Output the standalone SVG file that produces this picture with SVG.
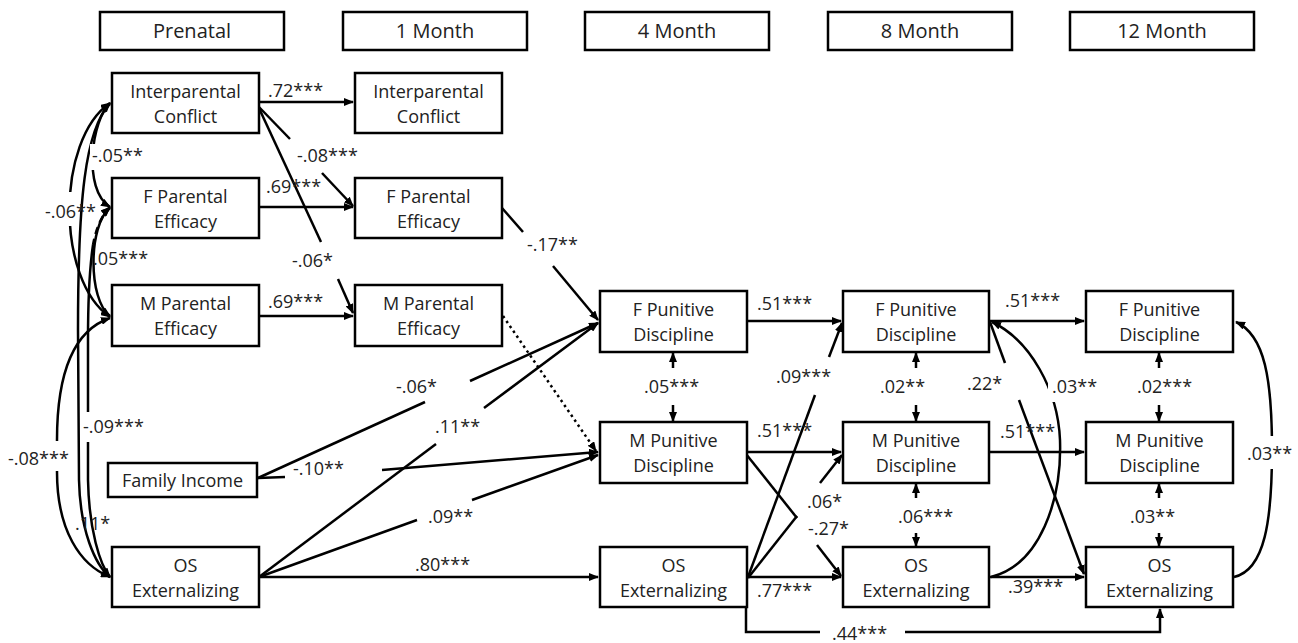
<svg xmlns="http://www.w3.org/2000/svg" width="1298" height="643" viewBox="0 0 1298 643">
<style>
.box{fill:#fff;stroke:#000;stroke-width:2.5}
.nt{font-family:"Open Sans","Liberation Sans",sans-serif;font-size:18px;fill:#222;text-anchor:middle}
.ht{font-family:"Open Sans","Liberation Sans",sans-serif;font-size:20px;fill:#222;text-anchor:middle}
.lb{font-family:"Open Sans","Liberation Sans",sans-serif;font-size:18px;fill:#222}
.ln{fill:none;stroke:#000;stroke-width:2.5}
.ar{marker-end:url(#ah)}
.dd{marker-start:url(#ah);marker-end:url(#ah)}
.gap{fill:#fff;stroke:none}
</style>
<defs>
<marker id="ah" viewBox="0 0 10 8" refX="9" refY="4" markerWidth="10" markerHeight="8" markerUnits="userSpaceOnUse" orient="auto-start-reverse"><path d="M0,0 L10,4 L0,8 z" fill="#000"/></marker>
</defs>

<g id="connectors">
<!-- left covariances -->
<path class="ln dd" d="M110,104 C92,118 82,190 110,207"/>
<path class="ln dd" d="M110,103 C56,140 56,280 110,317"/>
<path class="ln dd" d="M110,208 C88,225 88,300 110,316"/>
<path class="ln dd" d="M110,103 C85,130 78,200 78,330 L79,480 C80,530 95,565 110,577"/>
<path class="ln" d="M110,207 C102,215 96,228 93,245" stroke-dasharray="7,5" marker-start="url(#ah)"/>
<path class="ln ar" d="M93,245 C90,265 88,300 88,340 L88,480 C89,530 100,565 110,577"/>
<path class="ln dd" d="M110,318 C75,330 57,370 57,440 L57,472 C57,530 80,565 110,577"/>
<!-- prenatal to 1 month -->
<path class="ln ar" d="M259,102 H353"/>
<path class="ln ar" d="M259,207 H353"/>
<path class="ln ar" d="M259,316 H353"/>
<path class="ln" d="M258,106 L290,139"/>
<path class="ln ar" d="M322,173 L353,206"/>
<path class="ln" d="M258,106 L321,242"/>
<path class="ln ar" d="M338,279 L353,313"/>
<!-- to 4 month -->
<path class="ln" d="M502,208 L523,232"/>
<path class="ln ar" d="M553,266 L598,320"/>
<path class="ln ar" d="M503,316 L596,451" stroke-dasharray="2.5,3.5"/>
<path class="ln" d="M258,478 L425,402"/>
<path class="ln ar" d="M470,381 L598,323"/>
<path class="ln" d="M259,577 L436,444"/>
<path class="ln ar" d="M484,408 L598,323"/>
<path class="ln" d="M258,478 L285,477"/>
<path class="ln ar" d="M382,470 L598,452"/>
<path class="ln" d="M259,577 L417,520"/>
<path class="ln ar" d="M472,500 L598,455"/>
<path class="ln ar" d="M259,577 H598"/>
<!-- 4 month covariance -->
<path class="ln ar" d="M673,368 V353"/>
<path class="ln ar" d="M673,405 V421"/>
<!-- 4 to 8 month -->
<path class="ln ar" d="M747,321 H841"/>
<path class="ln ar" d="M747,452 H841"/>
<path class="ln ar" d="M747,577 H841"/>
<path class="ln" d="M748,577 L815,395"/>
<path class="ln ar" d="M829,357 L842,323"/>
<path class="ln" d="M748,578 L797,516"/>
<path class="ln ar" d="M820,483 L842,455"/>
<path class="ln" d="M746,454 L797,518"/>
<path class="ln ar" d="M817,545 L841,576"/>
<path class="ln ar" d="M746,607 V632 H820 M905,632 H1160 V609"/>
<!-- 8 month covariances -->
<path class="ln ar" d="M916,368 V353"/>
<path class="ln ar" d="M916,405 V421"/>
<path class="ln ar" d="M916,498 V484"/>
<path class="ln ar" d="M916,533 V546"/>
<!-- 8 to 12 month -->
<path class="ln ar" d="M989,321 H1084"/>
<path class="ln ar" d="M989,452 H1084"/>
<path class="ln ar" d="M989,577 H1084"/>
<path class="ln" d="M990,322 L1005,363"/>
<path class="ln ar" d="M1019,400 L1084,574"/>
<path class="ln ar" d="M991,577 C1040,565 1062,500 1060,440 C1058,390 1030,340 992,322"/>
<!-- 12 month covariances -->
<path class="ln ar" d="M1159,368 V353"/>
<path class="ln ar" d="M1159,405 V421"/>
<path class="ln ar" d="M1159,498 V484"/>
<path class="ln ar" d="M1159,533 V546"/>
<path class="ln ar" d="M1234,577 C1265,570 1272,520 1272,450 C1272,380 1265,335 1236,322"/>
</g>

<g id="labels">
<rect class="gap" x="90" y="144" width="10" height="26"/>
<rect class="gap" x="60" y="192" width="18" height="34"/>
<rect class="gap" x="84" y="412" width="10" height="30"/>
<rect class="gap" x="50" y="441" width="14" height="30"/>
<rect class="gap" x="1048" y="370" width="20" height="32"/>
<rect class="gap" x="1264" y="436" width="16" height="33"/>
<text class="lb" x="92" y="162">-.05**</text>
<text class="lb" x="45" y="218">-.06**</text>
<text class="lb" x="93" y="265">.05***</text>
<text class="lb" x="83" y="433">-.09***</text>
<text class="lb" x="8" y="465">-.08***</text>
<text class="lb" x="75" y="530">.11*</text>
<text class="lb" x="268" y="97">.72***</text>
<text class="lb" x="266" y="193">.69***</text>
<text class="lb" x="268" y="308">.69***</text>
<text class="lb" x="297" y="162">-.08***</text>
<text class="lb" x="292" y="267">-.06*</text>
<text class="lb" x="527" y="251">-.17**</text>
<text class="lb" x="396" y="393">-.06*</text>
<text class="lb" x="435" y="433">.11**</text>
<text class="lb" x="293" y="475">-.10**</text>
<text class="lb" x="428" y="523">.09**</text>
<text class="lb" x="415" y="571">.80***</text>
<text class="lb" x="757" y="310">.51***</text>
<text class="lb" x="644" y="393">.05***</text>
<text class="lb" x="757" y="437">.51***</text>
<text class="lb" x="776" y="383">.09***</text>
<text class="lb" x="807" y="508">.06*</text>
<text class="lb" x="808" y="535">-.27*</text>
<text class="lb" x="757" y="597">.77***</text>
<text class="lb" x="832" y="640">.44***</text>
<text class="lb" x="880" y="393">.02**</text>
<text class="lb" x="898" y="523">.06***</text>
<text class="lb" x="967" y="390">.22*</text>
<text class="lb" x="1052" y="393">.03**</text>
<text class="lb" x="1005" y="307">.51***</text>
<text class="lb" x="1000" y="438">.51***</text>
<text class="lb" x="1008" y="593">.39***</text>
<text class="lb" x="1137" y="393">.02***</text>
<text class="lb" x="1130" y="523">.03**</text>
<text class="lb" x="1247" y="460">.03**</text>
</g>

<g id="h_prenatal"><rect class="box" x="100" y="12" width="184" height="38"/><text class="ht" x="192" y="38">Prenatal</text></g>
<g id="h_1m"><rect class="box" x="343" y="12" width="184" height="38"/><text class="ht" x="435" y="38">1 Month</text></g>
<g id="h_4m"><rect class="box" x="585" y="12" width="184" height="38"/><text class="ht" x="677" y="38">4 Month</text></g>
<g id="h_8m"><rect class="box" x="828" y="12" width="184" height="38"/><text class="ht" x="920" y="38">8 Month</text></g>
<g id="h_12m"><rect class="box" x="1070" y="12" width="184" height="38"/><text class="ht" x="1162" y="38">12 Month</text></g>

<g id="ic_pre"><rect class="box" x="112" y="73" width="147" height="60"/><text class="nt" x="185.5" y="98">Interparental</text><text class="nt" x="185.5" y="123">Conflict</text></g>
<g id="fpe_pre"><rect class="box" x="112" y="178" width="147" height="60"/><text class="nt" x="185.5" y="203">F Parental</text><text class="nt" x="185.5" y="228">Efficacy</text></g>
<g id="mpe_pre"><rect class="box" x="112" y="285" width="147" height="61"/><text class="nt" x="185.5" y="310">M Parental</text><text class="nt" x="185.5" y="335">Efficacy</text></g>
<g id="fi_pre"><rect class="box" x="108" y="463" width="149" height="34"/><text class="nt" x="182.5" y="487">Family Income</text></g>
<g id="os_pre"><rect class="box" x="112" y="547" width="147" height="60"/><text class="nt" x="185.5" y="572">OS</text><text class="nt" x="185.5" y="597">Externalizing</text></g>

<g id="ic_1m"><rect class="box" x="355" y="73" width="147" height="60"/><text class="nt" x="428.5" y="98">Interparental</text><text class="nt" x="428.5" y="123">Conflict</text></g>
<g id="fpe_1m"><rect class="box" x="355" y="178" width="147" height="60"/><text class="nt" x="428.5" y="203">F Parental</text><text class="nt" x="428.5" y="228">Efficacy</text></g>
<g id="mpe_1m"><rect class="box" x="355" y="285" width="147" height="61"/><text class="nt" x="428.5" y="310">M Parental</text><text class="nt" x="428.5" y="335">Efficacy</text></g>

<g id="fpd_4m"><rect class="box" x="600" y="291" width="147" height="61"/><text class="nt" x="673.5" y="316">F Punitive</text><text class="nt" x="673.5" y="341">Discipline</text></g>
<g id="mpd_4m"><rect class="box" x="600" y="422" width="147" height="61"/><text class="nt" x="673.5" y="447">M Punitive</text><text class="nt" x="673.5" y="472">Discipline</text></g>
<g id="os_4m"><rect class="box" x="600" y="547" width="147" height="60"/><text class="nt" x="673.5" y="572">OS</text><text class="nt" x="673.5" y="597">Externalizing</text></g>

<g id="fpd_8m"><rect class="box" x="843" y="291" width="146" height="61"/><text class="nt" x="916" y="316">F Punitive</text><text class="nt" x="916" y="341">Discipline</text></g>
<g id="mpd_8m"><rect class="box" x="843" y="422" width="146" height="61"/><text class="nt" x="916" y="447">M Punitive</text><text class="nt" x="916" y="472">Discipline</text></g>
<g id="os_8m"><rect class="box" x="843" y="547" width="146" height="60"/><text class="nt" x="916" y="572">OS</text><text class="nt" x="916" y="597">Externalizing</text></g>

<g id="fpd_12m"><rect class="box" x="1086" y="291" width="147" height="61"/><text class="nt" x="1159.5" y="316">F Punitive</text><text class="nt" x="1159.5" y="341">Discipline</text></g>
<g id="mpd_12m"><rect class="box" x="1086" y="422" width="147" height="61"/><text class="nt" x="1159.5" y="447">M Punitive</text><text class="nt" x="1159.5" y="472">Discipline</text></g>
<g id="os_12m"><rect class="box" x="1086" y="547" width="147" height="60"/><text class="nt" x="1159.5" y="572">OS</text><text class="nt" x="1159.5" y="597">Externalizing</text></g>
</svg>
